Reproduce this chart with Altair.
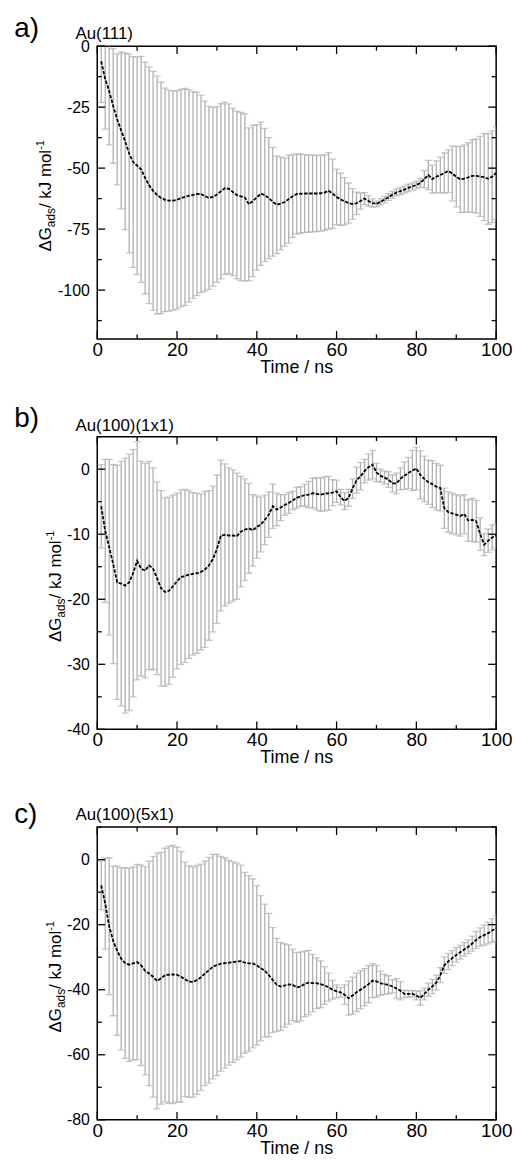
import altair as alt
import pandas as pd

FONT = "Liberation Sans"
GREY = "#b0b0b0"

time_ns = list(range(1, 101))

# Panel a) Au(111)
mean_a = [-6.2, -13.5, -18.5, -24.5, -30, -34.5, -39, -44, -47.5, -49,
          -50.5, -54, -57, -59.3, -61, -62.2, -63, -63.3, -63.3, -63,
          -62.3, -61.8, -61.3, -61.0, -60.6, -60.6, -61.5, -62.2, -61.8, -60.8,
          -59.5, -58.2, -58.5, -59.8, -61, -61.6, -62, -64.8, -63.5, -62,
          -60.5, -61, -62.3, -63.8, -65, -64.5, -63.9, -62.7, -61.5, -60.6,
          -60.5, -60.4, -60.4, -60.4, -60.4, -60.3, -60, -59.3, -60.5, -61.8,
          -62.8, -63.6, -64.3, -64.7, -64.4, -63.5, -62.5, -63.5, -64.3, -64.7,
          -63.8, -62.9, -61.9, -60.9, -60.0, -59.4, -58.8, -58.1, -57.5, -56.9,
          -56.1, -54.5, -52.8, -54.5, -53.5, -52.8, -52, -51.2, -52.2, -53.5,
          -54.6, -54.3, -53.8, -53.2, -53.2, -53.4, -53.7, -54.4, -53.5, -52]
err_a = [16.8, 20.5, 22, 23.5, 26.9, 32.2, 36.2, 40.7, 43.2, 44.6,
         46.3, 47.5, 48.5, 49, 48.7, 47.4, 45.8, 45.3, 45, 44.8,
         44.6, 44.5, 43.5, 42.4, 41.7, 40.5, 39, 37.5, 36.6, 36,
         35.9, 35.3, 34.8, 34.3, 34.4, 34.5, 34.3, 31.3, 31, 29.8,
         29.4, 27.3, 24.8, 22.3, 20, 19, 18.1, 18, 16.9, 16.4,
         16.2, 15.9, 15.8, 15.7, 15.6, 15.5, 15.5, 15.7, 14.2, 11.4,
         10.7, 9.7, 8.2, 6.3, 4.6, 3.3, 2.5, 2.2, 1.7, 1.2,
         1.3, 1.3, 1.4, 1.4, 1.4, 1.4, 1.4, 1.5, 1.5, 1.6,
         1.8, 3.5, 6, 5.7, 6.5, 7.3, 8.2, 8.7, 11.2, 12.4,
         13.5, 13.8, 14.2, 14.8, 15.2, 16.4, 17.8, 18.6, 18.8, 19]

# Panel b) Au(100)(1x1)
mean_b = [-5.7, -9.5, -12, -14.6, -17.4, -17.6, -17.9, -17.4, -16, -14.1,
          -15.3, -15.6, -14.8, -15.3, -16.8, -18.3, -18.9, -18.7, -18, -17.2,
          -16.6, -16.4, -16.2, -16.1, -16, -15.8, -15.4, -14.8, -13.8, -12.3,
          -10.2, -10.1, -10.2, -10.2, -10.3, -9.6, -9.3, -9.1, -9.4, -8.9,
          -8.5, -7.8, -7, -5.7, -6.2, -5.9, -5.5, -5.2, -4.8, -4.4,
          -4.2, -4.0, -3.9, -3.7, -3.8, -3.9, -3.8, -3.7, -3.6, -3.4,
          -4.3, -4.9, -4.4, -3.0, -1.7, -1.1, -0.3, 0.3, 0.7, -0.5,
          -1.0, -1.3, -1.6, -2.2, -2.2, -1.5, -1.0, -0.6, -0.2, 0.1,
          -0.9, -1.5, -2.0, -2.3, -2.7, -2.9, -6.0, -6.6, -6.8, -7.0,
          -7.2, -6.9, -7.9, -7.8, -8.0, -10.0, -11.6, -11.0, -10.5, -10.2]
err_b = [6.4, 11, 13.5, 15.3, 18, 18.8, 19.6, 19.7, 19, 18.3,
         16.5, 16.5, 16, 15.5, 14.8, 15, 14.5, 14.4, 14, 13.5,
         13.4, 13.3, 12.9, 12.5, 12.3, 12.0, 12, 11.5, 11.2, 11.4,
         11.6, 10.9, 10.4, 10.1, 9.7, 8.5, 7.8, 6.9, 5.5, 4.8,
         4.2, 3.8, 3.5, 3.4, 2.5, 2.0, 1.6, 1.6, 1.4, 1.6,
         1.5, 1.7, 2, 2.3, 2.5, 2.6, 2.6, 2.6, 2, 1.7,
         1.2, 1.3, 1.3, 1.5, 2, 2.1, 1.8, 2.0, 2.2, 1.4,
         1.0, 1.0, 1.2, 1.3, 1.6, 1.7, 2.1, 2.4, 3.1, 3.3,
         3.7, 3.5, 3.4, 3.6, 3.6, 3.5, 3.1, 3.1, 3.1, 3.1,
         3.1, 3.0, 3.2, 3.3, 3.2, 2.5, 1.7, 1.8, 1.9, 1.8]

# Panel c) Au(100)(5x1)
mean_c = [-7.9, -13.5, -20.5, -25, -28, -30.5, -31.8, -32.3, -31.9, -31.5,
          -32.5, -34.2, -35, -36, -37.3, -36.5, -35.5, -35.4, -35.3, -35.4,
          -36, -36.8, -37.5, -37.6, -37, -36.2, -35, -34, -32.9, -32.4,
          -32, -31.8, -31.7, -31.5, -31.3, -31.2, -31.7, -31.9, -31.9, -32.5,
          -33.4, -34.1, -35.5, -37, -38.5, -39, -38.7, -38.4, -38.5, -39.3,
          -39, -38.2, -37.8, -38, -38, -38.3, -38.7, -39.2, -40, -40.5,
          -40.8, -41.5, -42.6, -41.8, -40.8, -40, -39.2, -38.3, -37.2, -37.4,
          -38, -38.3, -38.5, -39, -39.6, -40.3, -41.3, -41.3, -41.2, -41.8,
          -42.5, -41.3, -40, -39, -37.8, -35.5, -32.5, -31.3, -30.3, -29.3,
          -28.5, -27.6, -26.8, -25.8, -24.7, -23.8, -23.2, -22.6, -21.8, -21.1]
err_c = [7.5, 14, 21, 23, 26, 28, 29.3, 29.7, 29.7, 30,
         30.8, 32, 34.5, 37, 39.3, 38.7, 39, 39.5, 39.7, 39.2,
         38.5, 36, 35.6, 35.4, 35.2, 34.8, 34.5, 34.7, 34.5, 34,
         33, 32.3, 31.5, 30.8, 30.2, 29.5, 27.8, 27, 26, 24.5,
         22.3, 20.4, 19, 16.1, 14.3, 13.5, 12.8, 12.2, 11, 10.7,
         10.6, 10.1, 9.9, 8.8, 7.8, 7.2, 5.8, 4.3, 2.9, 2,
         1.5, 3, 5.2, 5.7, 5.9, 5.9, 5.7, 5.7, 5.2, 4.9,
         3.7, 3.1, 2.8, 2, 3, 2.8, 1.2, 1.0, 1.0, 1.3,
         2.2, 1.8, 2, 2.2, 2.3, 2.3, 2.5, 2.5, 2.3, 2.2,
         2.1, 2.1, 2.1, 2.3, 2.6, 2.8, 3.1, 3.3, 3.6, 3.9]

panel_letters = ["a)", "b)", "c)"]
panel_names = ["Au(111)", "Au(100)(1x1)", "Au(100)(5x1)"]
y_domains = [[-120, 0], [-40, 5], [-80, 10]]
y_major = [[0, -25, -50, -75, -100], [0, -10, -20, -30, -40], [0, -20, -40, -60, -80]]
y_minor = [[-12.5, -37.5, -62.5, -87.5, -112.5], [5, -5, -15, -25, -35], [10, -10, -30, -50, -70]]
x_major = [0, 20, 40, 60, 80, 100]
x_minor = [10, 30, 50, 70, 90]
x_title = "Time / ns"

W = 402
H = 295
MAJ = 8
MIN = 4.5


def ann(text, x, y, size, align="left", angle=None, dx=0, dy=0):
    props = dict(align=align, baseline="alphabetic", fontSize=size, font=FONT, color="black")
    if angle is not None:
        props["angle"] = angle
    if dx:
        props["dx"] = dx
    if dy:
        props["dy"] = dy
    return alt.Chart(pd.DataFrame({"s": [text]})).mark_text(**props).encode(
        text="s:N", x=alt.value(x), y=alt.value(y))


def panel(mean, err, letter, name, ydom, ymaj, ymin, ytitle_x, letter_dy, name_dy):
    df = pd.DataFrame({"t": time_ns, "m": mean, "e": err})
    xs = alt.Scale(domain=[0, 100], nice=False, zero=False)
    ys = alt.Scale(domain=ydom, nice=False, zero=False)
    lbl = "'' + datum.value"
    base = alt.Chart(df).transform_calculate(lo="datum.m - datum.e", hi="datum.m + datum.e")
    bars = base.mark_rule(color=GREY, strokeWidth=1.3, clip=True).encode(
        x=alt.X("t:Q", scale=xs, title=None,
                axis=alt.Axis(values=x_major, labelFontSize=19, labelPadding=1.5,
                              labelFlush=False, labelOverlap=False, labelExpr=lbl)),
        y=alt.Y("lo:Q", scale=ys, title=None,
                axis=alt.Axis(values=ymaj, labelFontSize=16, labelPadding=8,
                              labelFlush=False, labelOverlap=False, labelExpr=lbl)),
        y2="hi:Q",
    )
    cap_lo = base.mark_tick(color=GREY, orient="horizontal", size=7, thickness=1.3, clip=True).encode(
        x=alt.X("t:Q", scale=xs, title=None), y=alt.Y("lo:Q", scale=ys, title=None))
    cap_hi = base.mark_tick(color=GREY, orient="horizontal", size=7, thickness=1.3, clip=True).encode(
        x=alt.X("t:Q", scale=xs, title=None), y=alt.Y("hi:Q", scale=ys, title=None))
    line = base.mark_line(color="black", strokeWidth=1.8, strokeDash=[3.5, 1.5], clip=True).encode(
        x=alt.X("t:Q", scale=xs, title=None), y=alt.Y("m:Q", scale=ys, title=None))

    layers = [bars, cap_lo, cap_hi, line]
    for vals, L in ((x_major, MAJ), (x_minor, MIN)):
        d = alt.Chart(pd.DataFrame({"v": vals}))
        layers.append(d.mark_rule(color="black", strokeWidth=1.3).encode(
            x=alt.X("v:Q", scale=xs, title=None), y=alt.value(H), y2=alt.value(H - L)))
        layers.append(d.mark_rule(color="black", strokeWidth=1.3).encode(
            x=alt.X("v:Q", scale=xs, title=None), y=alt.value(0), y2=alt.value(L)))
    for vals, L in ((ymaj, MAJ), (ymin, MIN)):
        d = alt.Chart(pd.DataFrame({"v": vals}))
        layers.append(d.mark_rule(color="black", strokeWidth=1.3).encode(
            y=alt.Y("v:Q", scale=ys, title=None), x=alt.value(0), x2=alt.value(L)))
        layers.append(d.mark_rule(color="black", strokeWidth=1.3).encode(
            y=alt.Y("v:Q", scale=ys, title=None), x=alt.value(W), x2=alt.value(W - L)))

    layers.append(ann(letter, -83.7, letter_dy, 28))
    layers.append(ann(name, -22, name_dy, 17))
    layers.append(ann(x_title, W / 2, H + 34, 18, align="center"))
    y0 = 207
    layers.append(ann("\u0394G", ytitle_x, y0, 17, angle=270))
    layers.append(ann("ads", ytitle_x, y0, 12, angle=270, dx=24.6, dy=4))
    layers.append(ann("/ kJ mol", ytitle_x, y0, 17, angle=270, dx=43.9))
    layers.append(ann("-1", ytitle_x, y0, 11, angle=270, dx=102.5, dy=-7))
    return alt.layer(*layers).properties(width=W, height=H)


pa = panel(mean_a, err_a, panel_letters[0], panel_names[0], y_domains[0], y_major[0], y_minor[0], -46.7, -9.5, -7)
pb = panel(mean_b, err_b, panel_letters[1], panel_names[1], y_domains[1], y_major[1], y_minor[1], -36.7, -10, -6)
pc = panel(mean_c, err_c, panel_letters[2], panel_names[2], y_domains[2], y_major[2], y_minor[2], -36.7, -4, -6.7)

chart = alt.vconcat(pa, pb, pc, spacing=98.5, bounds="flush").configure_view(
    stroke="black", strokeWidth=1.5
).configure_axis(
    grid=False, domain=False, ticks=False, tickSize=0, labelFont=FONT, labelColor="black"
).properties(padding={"left": 13, "top": 9, "right": 2, "bottom": 2})

chart.save("out.html", embed_options={"renderer": "svg", "actions": False})
